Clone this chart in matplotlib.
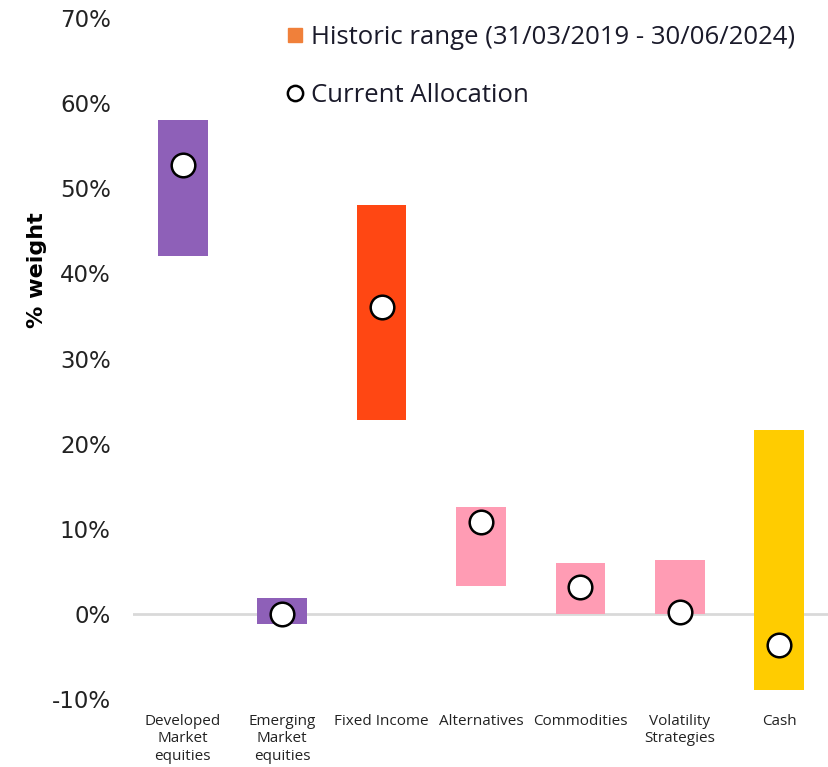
import matplotlib
matplotlib.use("Agg")
import matplotlib.pyplot as plt
from matplotlib.lines import Line2D
import numpy as np

# data
categories = ["Developed\nMarket\nequities", "Emerging\nMarket\nequities", "Fixed Income",
              "Alternatives", "Commodities", "Volatility\nStrategies", "Cash"]
range_low = [42.0, -1.2, 22.8, 3.3, 0.0, 0.0, -8.9]
range_high = [58.0, 1.9, 48.0, 12.6, 6.0, 6.3, 21.6]
current = [52.7, 0.0, 36.0, 10.8, 3.2, 0.2, -3.6]
bar_colors = ["#8E60B8", "#8E60B8", "#FF4713", "#FF9CB4", "#FF9CB4", "#FF9CB4", "#FFCC00"]
yticks = [-10, 0, 10, 20, 30, 40, 50, 60, 70]

fig = plt.figure(figsize=(8.29, 7.67), dpi=100)
ax = fig.add_axes([133 / 829, 68 / 767, 696 / 829, 681 / 767])

x = np.arange(len(categories))
low = np.array(range_low)
high = np.array(range_high)
ax.axhline(0, color="#D9D9D9", lw=2, zorder=1)
ax.bar(x, high - low, bottom=low, width=0.5, color=bar_colors, zorder=2)
ax.plot(x, current, "o", ms=17, mfc="white", mec="black", mew=1.8, zorder=3)

ax.set_xlim(-0.5, 6.5)
ax.set_ylim(-10, 70)
ax.set_yticks(yticks)
ax.set_yticklabels([f"{t}%" for t in yticks], fontsize=16.5, family="DejaVu Sans", color="#222222")
ax.set_xticks(x)
ax.set_xticklabels(categories, fontsize=11, family="Open Sans", color="#222222", linespacing=1.2)
ax.tick_params(length=0)
ax.tick_params(axis="y", pad=16)
ax.tick_params(axis="x", pad=11)
for s in ax.spines.values():
    s.set_visible(False)

ax.set_ylabel("% weight", fontsize=16, fontweight="bold")
ax.yaxis.set_label_coords(-0.123, 0.63)

handles = [
    Line2D([], [], marker="s", color="#F0803A", linestyle="none", markersize=10),
    Line2D([], [], marker="o", linestyle="none", markersize=11, mfc="white", mec="black", mew=1.8),
]
ax.legend(handles, ["Historic range (31/03/2019 - 30/06/2024)", "Current Allocation"],
          loc="upper left", bbox_to_anchor=(0.189, 1.024), frameon=False,
          prop={"family": "Open Sans", "size": 18.5}, handlelength=0.6, handletextpad=0.3,
          labelspacing=1.3, labelcolor="#1a1a2a")

fig.savefig("out.png", dpi=100)
